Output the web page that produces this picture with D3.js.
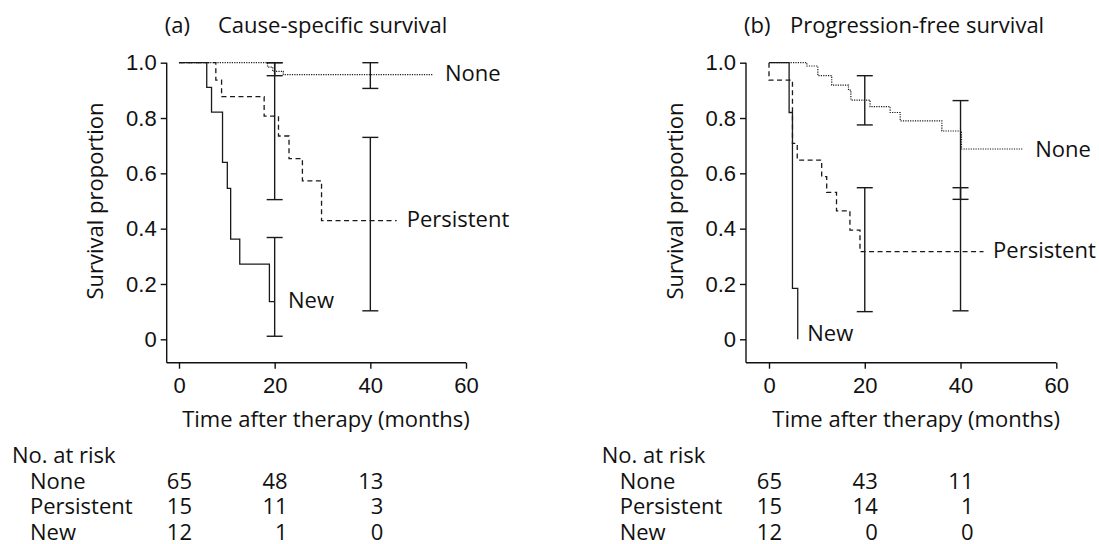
<!DOCTYPE html>
<html>
<head>
<meta charset="utf-8">
<script src="https://cdn.jsdelivr.net/npm/d3@7"></script>
<style>
  body { margin: 0; background: #fff; }
  svg { display: block; font-family: "Open Sans", "Noto Sans", sans-serif; }
  text { fill: #111; font-size: 22px; }
  .axis text { font-size: 22px; }
  .axis line { stroke: #111; stroke-width: 1.4; }
  .spine { stroke: #111; stroke-width: 1.4; }
  .km { fill: none; stroke: #1a1a1a; stroke-width: 1.3; }
  .errbar { stroke: #1a1a1a; stroke-width: 1.4; fill: none; }
</style>
</head>
<body>
<div id="chart"></div>
<script>
// Kaplan-Meier steps: [months, survival proportion]
const csNone       = [[0,1],[18.5,0.984],[19.6,0.969],[21.8,0.957],[53.2,0.957]];
const csPersistent = [[0,1],[7.7,0.937],[8.9,0.877],[17.8,0.807],[20.8,0.735],[23,0.653],[25.8,0.573],[29.8,0.429],[45.5,0.429]];
const csNew        = [[0,1],[5.8,0.911],[6.8,0.821],[9.1,0.64],[10.1,0.546],[10.8,0.362],[12.7,0.272],[18.9,0.136],[20,0.136]];

const pfNone       = [[0,1],[7.9,0.988],[10.2,0.953],[13.1,0.919],[16.6,0.901],[17.1,0.865],[21.1,0.841],[25.3,0.82],[27.4,0.79],[36.1,0.753],[40.2,0.688],[53.1,0.688]];
const pfPersistent = [[0,1],[0,0.937],[4.9,0.708],[5.9,0.648],[11.0,0.588],[12.05,0.531],[14.1,0.464],[16.9,0.395],[19.0,0.317],[44.8,0.317]];
const pfNew        = [[0,1],[4.2,0.82],[4.9,0.184],[6.0,0]];

// confidence intervals
const csBars = [
  { t: 20, lo: 0.953, hi: 1.0 }, { t: 20, lo: 0.505, hi: 1.0 }, { t: 20, lo: 0.011, hi: 0.368 },
  { t: 40, lo: 0.907, hi: 1.0 }, { t: 40, lo: 0.103, hi: 0.730 }
];
const pfBars = [
  { t: 20, lo: 0.775, hi: 0.953 }, { t: 20, lo: 0.100, hi: 0.548 },
  { t: 40, lo: 0.506, hi: 0.863 }, { t: 40, lo: 0.103, hi: 0.548 }
];

// curve end labels: [text, months, proportion]
const csLabels = [["None", 55.6, 0.962], ["Persistent", 47.6, 0.434], ["New", 22.8, 0.142]];
const pfLabels = [["None", 55.6, 0.687], ["Persistent", 46.8, 0.320], ["New", 8.0, 0.022]];

const xTicks = [0, 20, 40, 60];
const yTicks = [0, 0.2, 0.4, 0.6, 0.8, 1.0];

const riskGroups = ["None", "Persistent", "New"];
const riskTimes  = [0, 20, 40];
const csRisk = [[65, 48, 13], [15, 11, 3], [12, 1, 0]];
const pfRisk = [[65, 43, 11], [15, 14, 1], [12, 0, 0]];

const W = 1099, H = 544;
const svg = d3.select("#chart").append("svg").attr("width", W).attr("height", H);

const panels = [
  { tag: "(a)", title: "Cause-specific survival", spineX: 166.7, x0: 179, x60: 466, titleX: 218, tableX: 12,
    none: csNone, pers: csPersistent, nw: csNew, bars: csBars, labels: csLabels, risk: csRisk },
  { tag: "(b)", title: "Progression-free survival", spineX: 746, x0: 769, x60: 1056.3, titleX: 790, tableX: 601.7,
    none: pfNone, pers: pfPersistent, nw: pfNew, bars: pfBars, labels: pfLabels, risk: pfRisk }
];

const yTop = 62.7, yZero = 339.3, axisY = 362.7;

panels.forEach(p => {
  const x = d3.scaleLinear().domain([0, 60]).range([p.x0, p.x60]);
  const y = d3.scaleLinear().domain([0, 1]).range([yZero, yTop]);
  const g = svg.append("g");

  // titles
  g.append("text").attr("x", p.spineX - 2).attr("y", 33).text(p.tag);
  g.append("text").attr("x", p.titleX).attr("y", 33).text(p.title);

  // axes
  const xa = g.append("g").attr("class", "axis").attr("transform", `translate(0,${axisY})`)
    .call(d3.axisBottom(x).tickValues(xTicks).tickSize(6).tickPadding(9).tickSizeOuter(0));
  xa.select(".domain").remove();
  const ya = g.append("g").attr("class", "axis").attr("transform", `translate(${p.spineX},0)`)
    .call(d3.axisLeft(y).tickValues(yTicks).tickSize(6).tickPadding(4).tickSizeOuter(0)
      .tickFormat(d => d === 0 ? "0" : d3.format(".1f")(d)));
  ya.select(".domain").remove();
  xa.selectAll("text").attr("font-family", null).attr("font-size", null);
  ya.selectAll("text").attr("font-family", null).attr("font-size", null);

  g.append("line").attr("class", "spine")
    .attr("x1", p.spineX).attr("x2", x(60)).attr("y1", axisY).attr("y2", axisY);
  g.append("line").attr("class", "spine")
    .attr("x1", p.spineX).attr("x2", p.spineX).attr("y1", y(1)).attr("y2", axisY);

  // axis titles
  g.append("text").attr("x", x(30) + 3.5).attr("y", 427).attr("text-anchor", "middle")
    .text("Time after therapy (months)");
  g.append("text").attr("transform", `translate(${p.spineX - 63.5},${y(0.5)}) rotate(-90)`)
    .attr("text-anchor", "middle").text("Survival proportion");

  // KM curves
  const line = d3.line().x(d => x(d[0])).y(d => y(d[1])).curve(d3.curveStepAfter);
  g.append("path").attr("class", "km").attr("d", line(p.none))
    .style("stroke-dasharray", "1.2,1.2").style("stroke-width", 1.2);
  g.append("path").attr("class", "km").attr("d", line(p.pers))
    .style("stroke-dasharray", "5,3.5");
  g.append("path").attr("class", "km").attr("d", line(p.nw));

  // error bars
  const cap = 8;
  p.bars.forEach(b => {
    const cx = x(b.t);
    g.append("line").attr("class", "errbar").attr("x1", cx).attr("x2", cx).attr("y1", y(b.hi)).attr("y2", y(b.lo));
    [b.hi, b.lo].forEach(v => {
      g.append("line").attr("class", "errbar").attr("x1", cx - cap).attr("x2", cx + cap).attr("y1", y(v)).attr("y2", y(v));
    });
  });

  // curve labels
  p.labels.forEach(([txt, t, s]) => {
    g.append("text").attr("x", x(t)).attr("y", y(s)).attr("dy", "0.35em").text(txt);
  });

  // number at risk table
  const rowY = [463, 488.5, 514, 539.5];
  g.append("text").attr("x", p.tableX).attr("y", rowY[0]).text("No. at risk");
  riskGroups.forEach((grp, i) => {
    g.append("text").attr("x", p.tableX + 18).attr("y", rowY[i + 1]).text(grp);
    riskTimes.forEach((t, j) => {
      g.append("text").attr("x", x(t) + 13).attr("y", rowY[i + 1]).attr("text-anchor", "end")
        .text(p.risk[i][j]);
    });
  });
});
</script>
</body>
</html>
